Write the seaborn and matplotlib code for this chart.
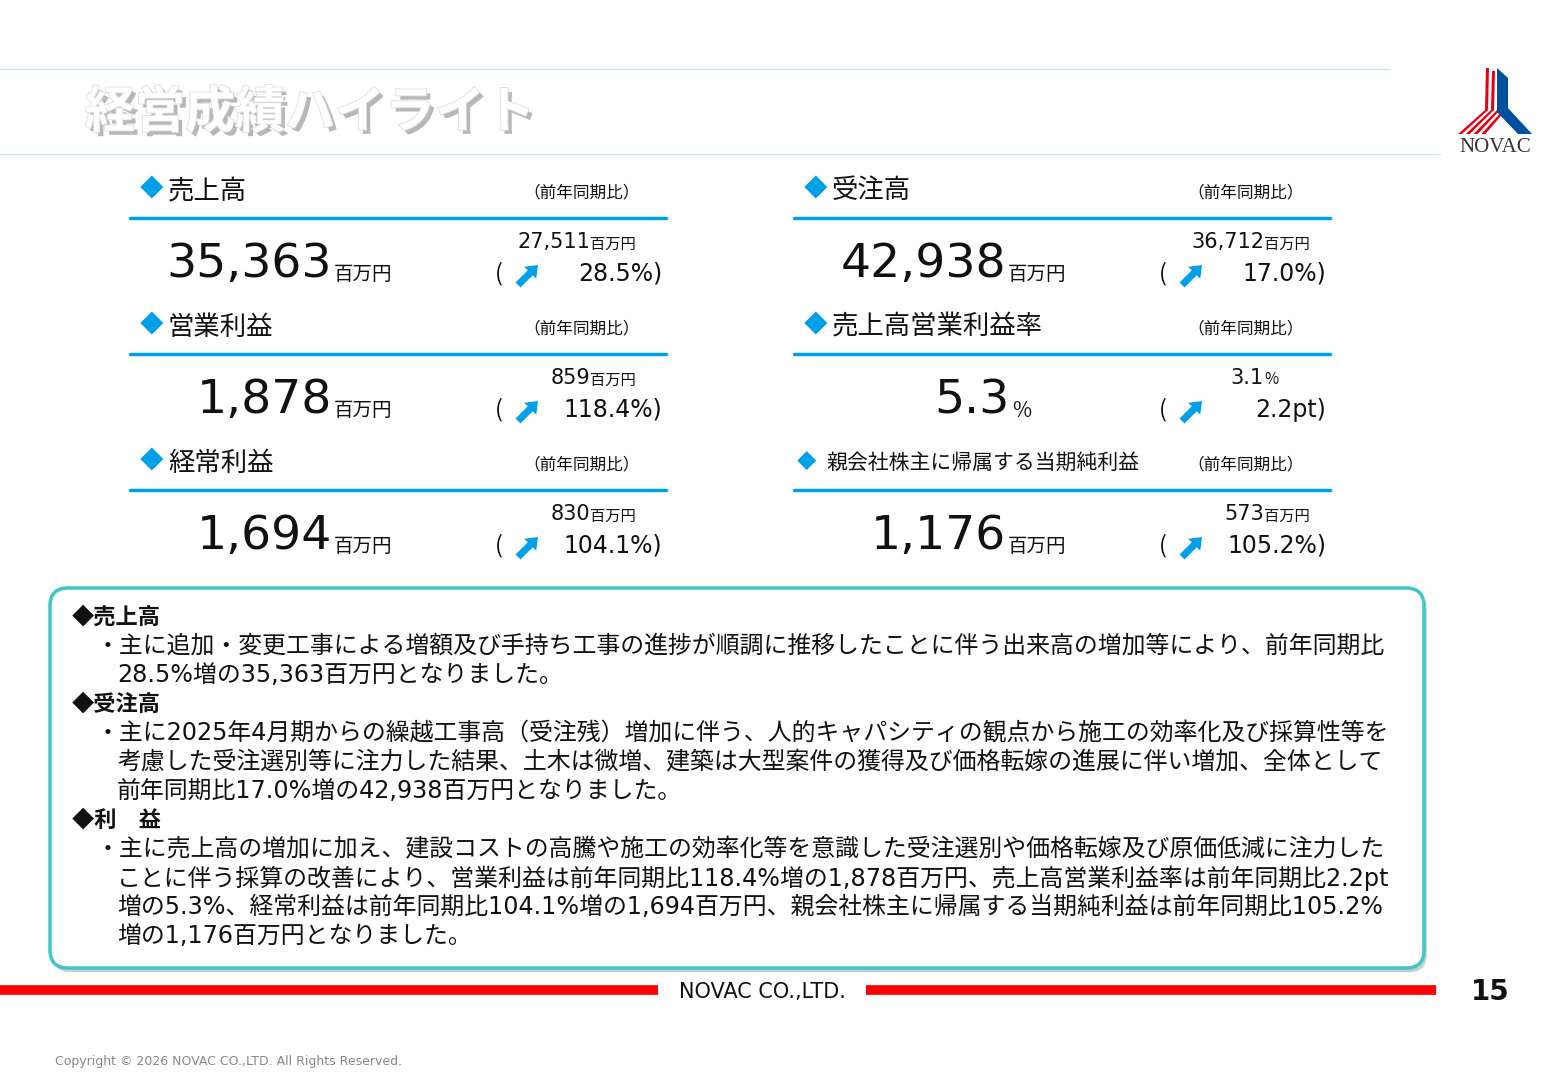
import matplotlib
matplotlib.use("Agg")
import matplotlib.pyplot as plt
import matplotlib.patheffects as pe
from matplotlib.patches import FancyBboxPatch, Polygon, FancyArrow
import seaborn as sns

sns.set_theme(style="white")
plt.rcParams["font.family"] = ["Noto Sans CJK JP", "DejaVu Sans"]
MIX = ["DejaVu Sans", "Noto Sans CJK JP"]

BLUE = "#00a0e9"
RED = "#e60012"

# metric tiles
names = ["売上高", "受注高", "営業利益", "売上高営業利益率", "経常利益", "親会社株主に帰属する当期純利益"]
values = ["35,363", "42,938", "1,878", "5.3", "1,694", "1,176"]
units = ["百万円", "百万円", "百万円", "%", "百万円", "百万円"]
prev = ["27,511", "36,712", "859", "3.1", "830", "573"]
prev_units = ["百万円", "百万円", "百万円", "%", "百万円", "百万円"]
changes = ["28.5%", "17.0%", "118.4%", "2.2pt", "104.1%", "105.2%"]

sections = [
    ("◆売上高", ["・主に追加・変更工事による増額及び手持ち工事の進捗が順調に推移したことに伴う出来高の増加等により、前年同期比",
               "28.5%増の35,363百万円となりました。"]),
    ("◆受注高", ["・主に2025年4月期からの繰越工事高（受注残）増加に伴う、人的キャパシティの観点から施工の効率化及び採算性等を",
               "考慮した受注選別等に注力した結果、土木は微増、建築は大型案件の獲得及び価格転嫁の進展に伴い増加、全体として",
               "前年同期比17.0%増の42,938百万円となりました。"]),
    ("◆利　益", ["・主に売上高の増加に加え、建設コストの高騰や施工の効率化等を意識した受注選別や価格転嫁及び原価低減に注力した",
               "ことに伴う採算の改善により、営業利益は前年同期比118.4%増の1,878百万円、売上高営業利益率は前年同期比2.2pt",
               "増の5.3%、経常利益は前年同期比104.1%増の1,694百万円、親会社株主に帰属する当期純利益は前年同期比105.2%",
               "増の1,176百万円となりました。"]),
]

fig = plt.figure(figsize=(15.6, 10.8), dpi=100)
ax = fig.add_axes([0, 0, 1, 1])
ax.set_xlim(0, 1560)
ax.set_ylim(1080, 0)
ax.axis("off")

# header
ax.plot([0, 1390], [69, 69], color="#cfe3f0", lw=1)
ax.plot([0, 1440], [154, 154], color="#cfe3f0", lw=1)
ax.text(85, 113, "経営成績ハイライト", fontsize=36, fontweight="bold", color="white", va="center",
        path_effects=[pe.withSimplePatchShadow(offset=(3, -3), shadow_rgbFace="#888888", alpha=0.6),
                      pe.Stroke(linewidth=1.2, foreground="#dddddd"), pe.Normal()])

# logo
for i in range(4):
    dx = i * 6
    ax.add_patch(Polygon([(1486 + dx, 68 + i * 3), (1489 + dx, 68 + i * 3), (1488 + dx, 110),
                          (1462 + dx * 1.3, 134), (1458 + dx * 1.3, 134), (1485 + dx, 110)],
                         closed=True, color=RED, lw=0))
ax.add_patch(Polygon([(1497, 68), (1508, 78), (1508, 108), (1532, 134), (1518, 134), (1497, 112)],
                     closed=True, color="#0050a0", lw=0))
ax.text(1495, 147, "NOVAC", fontsize=15, ha="center", va="center", color="#333333",
        family=["Liberation Serif", "DejaVu Serif"])

# tiles
col_x = [130, 794]
row_y = [190, 326, 462]
for k, name in enumerate(names):
    cx = col_x[k % 2]
    ry = row_y[k // 2]
    small = k == 5
    off = 10 if k % 2 else 0
    ax.text(cx + 10 if not small else cx + 3, ry, "◆", color=BLUE, fontsize=17 if not small else 14, va="center")
    ax.text(cx + 38 if not small else cx + 32, ry + 1, name, fontsize=19 if not small else 15, va="center", color="#111111")
    ax.text(cx + 452, ry + 3, "（前年同期比）", fontsize=12, va="center", ha="center", color="#111111")
    ax.plot([cx, cx + 536], [ry + 28, ry + 28], color=BLUE, lw=2.5)
    vy = ry + 75
    if units[k] == "%":
        vx = cx + 216
    else:
        vx = cx + 202 + off
    ax.text(vx, vy, values[k], fontsize=34, ha="right", va="center", color="#111111", family=MIX)
    ax.text(vx + 2, vy + 10, units[k], fontsize=14 if units[k] != "%" else 15, va="center", color="#111111")
    ax.text(cx + 460 + off, vy - 23, prev[k], fontsize=15, ha="right", va="center", color="#111111", family=MIX)
    ax.text(cx + 460 + off, vy - 21, prev_units[k], fontsize=11, ha="left", va="center", color="#111111")
    ax.text(cx + 365, vy + 9, "(", fontsize=17, va="center", color="#111111")
    ax.add_patch(FancyArrow(cx + 388, vy + 20, 20, -20, width=7, head_width=17, head_length=11,
                            length_includes_head=True, color=BLUE, lw=0))
    ax.text(cx + 532, vy + 9, changes[k] + ")", fontsize=17, ha="right", va="center", color="#111111", family=MIX)

# comment box
box = FancyBboxPatch((50, 588), 1374, 380, boxstyle="round,pad=0,rounding_size=18",
                     fc="white", ec="#3cc8c8", lw=2.5,
                     path_effects=[pe.withSimplePatchShadow(offset=(2, -3), shadow_rgbFace="#999999", alpha=0.5)])
ax.add_patch(box)
y = 617
for head, lines in sections:
    ax.text(72, y, head, fontsize=16, fontweight="bold", va="center", color="#111111")
    y += 29
    for j, line in enumerate(lines):
        ax.text(96 if j == 0 else 117, y, line, fontsize=17.2, va="center", color="#111111", family=MIX)
        y += 29

# footer
ax.plot([0, 658], [990, 990], color="#ff0000", lw=7, solid_capstyle="butt")
ax.plot([866, 1436], [990, 990], color="#ff0000", lw=7, solid_capstyle="butt")
ax.text(762, 992, "NOVAC CO.,LTD.", fontsize=15, ha="center", va="center", color="#111111", family=MIX)
ax.text(1490, 992, "15", fontsize=20, fontweight="bold", ha="center", va="center", color="#111111", family=MIX)
ax.text(55, 1062, "Copyright © 2026 NOVAC CO.,LTD. All Rights Reserved.", fontsize=9, va="center", color="#888888", family=MIX)

fig.savefig("out.png", dpi=100, facecolor="white")
